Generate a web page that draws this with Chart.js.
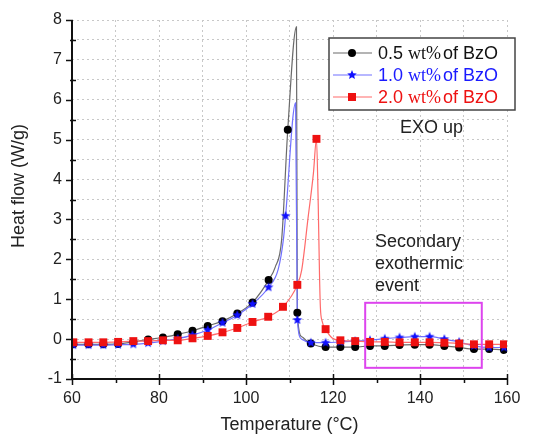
<!DOCTYPE html>
<html>
<head>
<meta charset="utf-8">
<script src="https://cdn.jsdelivr.net/npm/chart.js@4.4.0/dist/chart.umd.min.js"></script>
<style>
  html, body { margin: 0; padding: 0; background: #fff; }
  #wrap { width: 534px; height: 440px; position: relative; }
</style>
</head>
<body>
<div id="wrap"><canvas id="dsc" width="534" height="440"></canvas></div>
<script>
// marker points (symbols), temperature in °C, heat flow in W/g
let blackMarkT = [60.3, 63.8, 67.2, 70.6, 74.1, 77.5, 80.9, 84.3, 87.7, 91.2, 94.6, 98.0, 101.5, 105.2, 109.6, 111.8, 114.9, 118.3, 121.7, 125.1, 128.5, 131.9, 135.3, 138.8, 142.2, 145.6, 149.0, 152.4, 155.9, 159.3];
let blackMarkQ = [-0.13, -0.13, -0.13, -0.12, -0.07, -0.01, 0.04, 0.12, 0.21, 0.33, 0.45, 0.64, 0.92, 1.48, 5.25, 0.66, -0.11, -0.20, -0.20, -0.20, -0.17, -0.17, -0.15, -0.14, -0.14, -0.17, -0.21, -0.25, -0.25, -0.27];
let blueMarkT = [60.3, 63.8, 67.2, 70.6, 74.1, 77.5, 80.9, 84.3, 87.7, 91.2, 94.6, 98.0, 101.5, 105.2, 109.1, 111.8, 114.9, 118.3, 121.7, 125.1, 128.5, 131.9, 135.3, 138.8, 142.2, 145.6, 149.0, 152.4, 155.9, 159.3];
let blueMarkQ = [-0.15, -0.15, -0.15, -0.14, -0.13, -0.10, -0.05, 0.01, 0.10, 0.23, 0.41, 0.60, 0.88, 1.30, 3.09, 0.48, -0.09, -0.09, -0.07, -0.05, -0.03, 0.01, 0.04, 0.06, 0.06, 0.00, -0.07, -0.17, -0.21, -0.21];
let redMarkT = [60.3, 63.8, 67.2, 70.6, 74.1, 77.5, 80.9, 84.3, 87.7, 91.2, 94.6, 98.0, 101.5, 105.1, 108.5, 111.8, 116.2, 118.3, 121.7, 125.1, 128.5, 131.9, 135.3, 138.8, 142.2, 145.6, 149.0, 152.4, 155.9, 159.3];
let redMarkQ = [-0.08, -0.08, -0.08, -0.07, -0.05, -0.05, -0.03, -0.03, 0.02, 0.08, 0.17, 0.28, 0.43, 0.56, 0.81, 1.36, 5.02, 0.25, -0.03, -0.05, -0.07, -0.07, -0.08, -0.08, -0.08, -0.09, -0.11, -0.13, -0.13, -0.13];

// extra points of the continuous curves (no symbol drawn)
let blackCurveT = [60, 106.7, 108.2, 111.6, 112.8, 114.0, 160];
let blackCurveQ = [-0.13, 1.80, 2.50, 7.83, 0.06, -0.05, -0.28];
let blueCurveT = [60, 107.4, 108.6, 111.4, 112.8, 114.0, 160];
let blueCurveQ = [-0.15, 1.75, 2.50, 5.92, 0.00, -0.07, -0.21];
let redCurveT = [60, 112.8, 114.3, 115.5, 116.6, 116.9, 117.1, 117.5, 119.8, 160];
let redCurveQ = [-0.08, 1.73, 3.07, 4.16, 3.40, 1.60, 0.80, 0.45, 0.03, -0.13];

let loadings = ['0.5', '1.0', '2.0'];
let textColors = ['#111111', '#1a1aff', '#ee1111'];
let lineColors = ['#6a6a6a', '#7070ff', '#ff6a6a'];
let markColors = ['#000000', '#1010ff', '#ee1111'];

// secondary event box (data units)
let boxT = [127.4, 154.2];
let boxQ = [0.91, -0.72];

let sans = "'Liberation Sans', Arial, sans-serif";
let serif = "'Liberation Serif', 'Times New Roman', serif";

function toPoints(t, q) {
  let pts = [];
  for (let i = 0; i <= t.length - 1; i++) {
    pts.push({x: t[i], y: q[i]});
  }
  return pts;
}

function curve(markT, markQ, extraT, extraQ) {
  let pts = toPoints(markT, markQ).concat(toPoints(extraT, extraQ));
  pts.sort(function(a, b) { return a.x - b.x; });
  return pts;
}

function starImage(color, r) {
  let c = document.createElement('canvas');
  c.width = 2 * r + 2;
  c.height = 2 * r + 2;
  let g = c.getContext('2d');
  g.fillStyle = color;
  g.beginPath();
  for (let i = 0; i < 10; i++) {
    let rad = i % 2 === 0 ? r : r * 0.45;
    let a = -Math.PI / 2 + i * Math.PI / 5;
    let px = r + 1 + rad * Math.cos(a);
    let py = r + 1 + rad * Math.sin(a);
    if (i === 0) g.moveTo(px, py); else g.lineTo(px, py);
  }
  g.closePath();
  g.fill();
  return c;
}

let star = starImage(markColors[1], 5);

function drawMarker(ctx, i, x, y) {
  ctx.fillStyle = markColors[i];
  if (i === 0) {
    ctx.beginPath();
    ctx.arc(x, y, 4, 0, Math.PI * 2);
    ctx.fill();
  } else if (i === 1) {
    ctx.drawImage(star, x - star.width / 2, y - star.height / 2);
  } else {
    ctx.fillRect(x - 4, y - 4, 8, 8);
  }
}

let decor = {
  id: 'decor',
  afterDatasetsDraw(chart) {
    let ctx = chart.ctx;
    let a = chart.chartArea;
    let xs = chart.scales.x;
    let ys = chart.scales.y;
    ctx.save();

    // axes
    ctx.strokeStyle = '#111';
    ctx.lineWidth = 2;
    ctx.beginPath();
    ctx.moveTo(a.left, a.top);
    ctx.lineTo(a.left, a.bottom);
    ctx.lineTo(a.right, a.bottom);
    ctx.stroke();

    ctx.lineWidth = 1.5;
    ctx.beginPath();
    for (let v = -1; v <= 8; v += 0.5) {
      let py = Math.round(ys.getPixelForValue(v)) + 0.5;
      if (v % 1 === 0) { ctx.moveTo(a.left - 6, py); ctx.lineTo(a.left + 1, py); }
      else { ctx.moveTo(a.left - 2, py); ctx.lineTo(a.left + 4, py); }
    }
    for (let t = 60; t <= 160; t += 10) {
      let px = Math.round(xs.getPixelForValue(t)) + 0.5;
      if (t % 20 === 0) { ctx.moveTo(px, a.bottom - 5); ctx.lineTo(px, a.bottom + 6); }
      else { ctx.moveTo(px, a.bottom); ctx.lineTo(px, a.bottom + 4); }
    }
    ctx.stroke();

    // axis titles
    ctx.fillStyle = '#222';
    ctx.font = '18px ' + sans;
    ctx.textAlign = 'center';
    ctx.textBaseline = 'middle';
    ctx.fillText('Temperature (°C)', (a.left + a.right) / 2, 425);
    ctx.save();
    ctx.translate(19, 186);
    ctx.rotate(-Math.PI / 2);
    ctx.fillText('Heat flow (W/g)', 0, 0);
    ctx.restore();

    // secondary event box
    let bx0 = xs.getPixelForValue(boxT[0]);
    let bx1 = xs.getPixelForValue(boxT[1]);
    let by0 = ys.getPixelForValue(boxQ[0]);
    let by1 = ys.getPixelForValue(boxQ[1]);
    ctx.strokeStyle = '#dd44ee';
    ctx.lineWidth = 2;
    ctx.strokeRect(bx0, by0, bx1 - bx0, by1 - by0);

    // notes
    ctx.textAlign = 'left';
    ctx.fillStyle = '#222';
    ctx.fillText('EXO up', 400, 128);
    ctx.fillText('Secondary', 375, 242);
    ctx.fillText('exothermic', 375, 264);
    ctx.fillText('event', 375, 286);

    // legend
    ctx.fillStyle = '#fff';
    ctx.fillRect(329, 38, 186, 72);
    ctx.strokeStyle = '#444';
    ctx.lineWidth = 1.5;
    ctx.strokeRect(329, 38, 186, 72);
    let rowsY = [53, 75, 97];
    for (let i = 0; i < loadings.length; i++) {
      let ry = rowsY[i];
      ctx.strokeStyle = lineColors[i];
      ctx.lineWidth = 1.2;
      ctx.beginPath();
      ctx.moveTo(333, ry);
      ctx.lineTo(372, ry);
      ctx.stroke();
      drawMarker(ctx, i, 352, ry);
      ctx.fillStyle = textColors[i];
      let tx = 378;
      ctx.font = '18px ' + sans;
      ctx.fillText(loadings[i], tx, ry + 1);
      tx += ctx.measureText(loadings[i]).width + 5;
      ctx.font = '18px ' + serif;
      ctx.fillText('wt%', tx, ry + 1);
      tx += ctx.measureText('wt%').width + 2;
      ctx.font = '18px ' + sans;
      ctx.fillText('of BzO', tx, ry + 1);
    }
    ctx.restore();
  }
};

let lineSets = [
  curve(blackMarkT, blackMarkQ, blackCurveT, blackCurveQ),
  curve(blueMarkT, blueMarkQ, blueCurveT, blueCurveQ),
  curve(redMarkT, redMarkQ, redCurveT, redCurveQ),
];
let markSets = [
  toPoints(blackMarkT, blackMarkQ),
  toPoints(blueMarkT, blueMarkQ),
  toPoints(redMarkT, redMarkQ),
];
let pointStyles = ['circle', star, 'rect'];
let pointRadii = [4, 5, 5.6];

let datasets = [];
for (let i = 0; i < 3; i++) {
  datasets.push({
    data: lineSets[i],
    borderColor: lineColors[i],
    borderWidth: 1.2,
    pointRadius: 0,
    cubicInterpolationMode: 'monotone',
    fill: false,
    order: 6 - i,
  });
}
for (let i = 0; i < 3; i++) {
  datasets.push({
    data: markSets[i],
    showLine: false,
    pointStyle: pointStyles[i],
    pointRadius: pointRadii[i],
    backgroundColor: markColors[i],
    borderColor: markColors[i],
    borderWidth: 0,
    order: 3 - i,
  });
}

let ctx = document.getElementById('dsc').getContext('2d');
let dsc = new Chart(ctx, {
  type: 'line',
  data: { datasets: datasets },
  plugins: [decor],
  options: {
    responsive: false,
    animation: false,
    devicePixelRatio: 1,
    events: [],
    layout: { padding: { left: 0, right: 27, top: 20, bottom: 0 } },
    plugins: { legend: { display: false }, tooltip: { enabled: false } },
    scales: {
      x: {
        type: 'linear',
        min: 60,
        max: 160,
        afterFit: function(scale) { scale.height = 61; },
        grid: { color: '#c8c8c8', lineWidth: 1, drawTicks: false },
        border: { display: false, dash: [2, 3] },
        ticks: {
          stepSize: 10,
          autoSkip: false,
          maxRotation: 0,
          padding: 10,
          color: '#222',
          font: { family: sans, size: 16 },
          callback: function(v) { return v % 20 === 0 ? String(v) : ''; },
        },
      },
      y: {
        type: 'linear',
        min: -1,
        max: 8,
        afterFit: function(scale) { scale.width = 72; },
        grid: { color: '#c8c8c8', lineWidth: 1, drawTicks: false },
        border: { display: false, dash: [2, 3] },
        ticks: {
          stepSize: 0.5,
          autoSkip: false,
          padding: 10,
          color: '#222',
          font: { family: sans, size: 16 },
          callback: function(v) { return v % 1 === 0 ? String(v) : ''; },
        },
      },
    },
  },
});
</script>
</body>
</html>
